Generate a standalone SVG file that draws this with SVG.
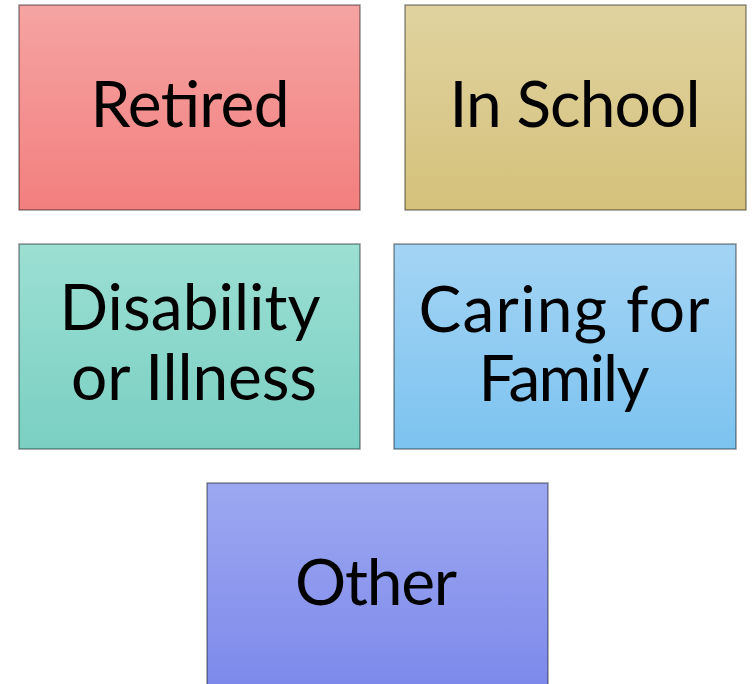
<svg xmlns="http://www.w3.org/2000/svg" width="752" height="684" viewBox="0 0 752 684">
  <defs>
    <linearGradient id="gRed" x1="0" y1="0" x2="0" y2="1">
      <stop offset="0" stop-color="#f5a4a3"/>
      <stop offset="1" stop-color="#f27f7e"/>
    </linearGradient>
    <linearGradient id="gGold" x1="0" y1="0" x2="0" y2="1">
      <stop offset="0" stop-color="#e1d3a0"/>
      <stop offset="1" stop-color="#d4c17b"/>
    </linearGradient>
    <linearGradient id="gTeal" x1="0" y1="0" x2="0" y2="1">
      <stop offset="0" stop-color="#9cdfd3"/>
      <stop offset="1" stop-color="#7acfc3"/>
    </linearGradient>
    <linearGradient id="gBlue" x1="0" y1="0" x2="0" y2="1">
      <stop offset="0" stop-color="#a4d4f4"/>
      <stop offset="1" stop-color="#7cc3f0"/>
    </linearGradient>
    <linearGradient id="gViolet" x1="0" y1="0" x2="0" y2="1">
      <stop offset="0" stop-color="#9da8f1"/>
      <stop offset="1" stop-color="#7b87ea"/>
    </linearGradient>
  </defs>
  <style>
    .box { stroke: #000; stroke-opacity: 0.42; stroke-width: 1.5; }
    .label { font-family: "Lato", "Open Sans", "DejaVu Sans", sans-serif; font-size: 64px; fill: #000; text-anchor: middle; }
  </style>
  <rect width="752" height="684" fill="#ffffff"/>

  <g id="retired">
    <rect class="box" x="19" y="5" width="341" height="205" fill="url(#gRed)"/>
    <text class="label" x="190" y="127" textLength="199">Retired</text>
  </g>

  <g id="in-school">
    <rect class="box" x="405" y="5" width="341" height="205" fill="url(#gGold)"/>
    <text class="label" x="575" y="127" textLength="251">In School</text>
  </g>

  <g id="disability">
    <rect class="box" x="19" y="244" width="341" height="205" fill="url(#gTeal)"/>
    <text class="label" x="190" y="330" textLength="261">Disability</text>
    <text class="label" x="194" y="400" textLength="246">or Illness</text>
  </g>

  <g id="caring">
    <rect class="box" x="394" y="244" width="342" height="205" fill="url(#gBlue)"/>
    <text class="label" x="564" y="332" textLength="291">Caring for</text>
    <text class="label" x="564" y="401" textLength="171">Family</text>
  </g>

  <g id="other">
    <rect class="box" x="207" y="483" width="341" height="220" fill="url(#gViolet)"/>
    <text class="label" x="376" y="605" textLength="162">Other</text>
  </g>
</svg>
